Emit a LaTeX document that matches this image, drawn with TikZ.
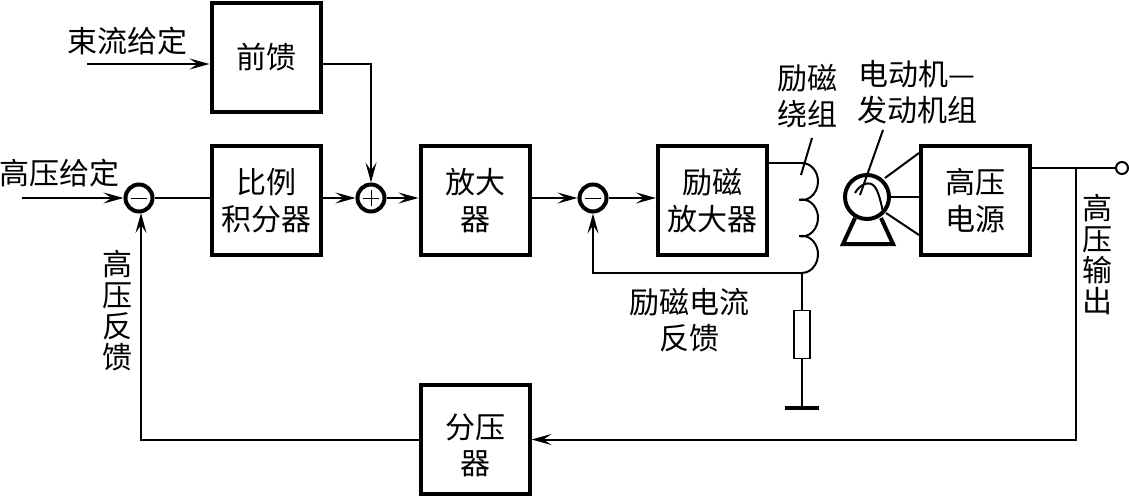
\documentclass[tikz,border=0pt]{standalone}
\usepackage{fontspec}
\setmainfont{Noto Sans CJK SC}
\usetikzlibrary{arrows.meta,calc}
\tikzset{
  blockbox/.style={draw,line width=4pt,minimum width=109pt,minimum height=109pt,inner sep=0pt,align=center,font=\fontsize{30}{37}\selectfont},
  sumnode/.style={draw,circle,line width=4pt,minimum size=27pt,inner sep=0pt},
  label/.style={inner sep=0pt,align=center,font=\fontsize{30}{36}\selectfont},
  vlabel/.style={inner sep=0pt,align=center,font=\fontsize{30}{31}\selectfont},
  wire/.style={line width=2pt},
  flow/.style={wire,-{Stealth[length=20pt,width=11pt,inset=8pt]}},
  heavy/.style={line width=4pt},
}
\begin{document}
\begin{tikzpicture}[x=1pt,y=-1pt]
\useasboundingbox (0,0) rectangle (1129,498);
% blocks
\node[blockbox] (ff)  at (266,57)    {前馈};
\node[blockbox] (pi)  at (266,200.5) {比例\\积分器};
\node[blockbox] (amp) at (475,200.5) {放大\\器};
\node[blockbox] (exc) at (712.5,200.5) {励磁\\放大器};
\node[blockbox] (hv)  at (975.5,200.5) {高压\\电源};
\node[blockbox] (div) at (475,439.5) {};
\node[label] (divt) at (475,445.5) {分压\\器};
% summing junctions
\node[sumnode] (s1) at (139,198) {};
\node[sumnode] (s2) at (371,198) {};
\node[sumnode] (s3) at (593,198) {};
\draw[line width=1pt] ($(s1)+(-8,0)$) -- ($(s1)+(8,0)$);
\draw[line width=1pt] ($(s2)+(-8,0)$) -- ($(s2)+(8,0)$) ($(s2)+(0,-8)$) -- ($(s2)+(0,8)$);
\draw[line width=1pt] ($(s3)+(-8,0)$) -- ($(s3)+(8,0)$);
% free ends and junctions
\coordinate (in1) at (22,198);
\coordinate (in2) at (87,64);
\coordinate (coilT) at (802,163);
\coordinate (coilB) at (802,273);
\coordinate (tap) at (1076,168);
\coordinate (gnd) at (802,408);
\coordinate (s1in) at (141,213);
\node[draw,line width=2pt,circle,minimum size=12pt,inner sep=0pt] (out) at (1122,168) {};
\node[draw,line width=1.5pt,minimum width=16pt,minimum height=48pt,inner sep=0pt] (res) at (802,334.5) {};
% signal path
\draw[flow] (in1) -- (s1.west);
\draw[wire] (s1.east) -- (s1 -| pi.west);
\draw[flow] (s2 -| pi.east) -- (s2.west);
\draw[flow] (s2.east) -- (s2 -| amp.west);
\draw[flow] (s3 -| amp.east) -- (s3.west);
\draw[flow] (s3.east) -- (s3 -| exc.west);
\draw[flow] (in2) -- (in2 -| ff.west);
\draw[flow] (in2 -| ff.east) -| (s2.north);
\draw[wire] (coilT -| exc.east) -- (coilT);
% coil
\draw[wire] (coilT) arc[start angle=-90,end angle=100,x radius=16,y radius=18.5]
  arc[start angle=-100,end angle=100,x radius=16,y radius=18.5]
  arc[start angle=-100,end angle=90,x radius=16,y radius=18.5];
\draw[wire] (812,138) -- (801,175);
% excitation feedback and resistor
\draw[flow] (coilB) -| (s3.south);
\draw[wire] (coilB) -- (res.north);
\draw[wire] (res.south) -- (gnd);
\draw[heavy] ($(gnd)+(-17,0)$) -- ($(gnd)+(17,0)$);
% motor-generator
\node[draw,circle,line width=4pt,minimum size=44pt,inner sep=0pt] (mot) at (867,197) {};
\draw[heavy,line join=miter] (855,218) -- (843,244) -- (893,244) -- (881,218);
\draw[wire] (885,178) -- (hv.west |- 0,153);
\draw[wire] (mot.east) -- (hv.west |- mot);
\draw[wire] (886,213) -- (hv.west |- 0,235);
\draw[wire] (883,130) -- (860,195);
\draw[wire] (855,193) .. controls (860,184) and (870,180) .. (875,187) .. controls (879,193) and (881,203) .. (883,212);
% output and HV feedback
\draw[wire] (hv.east |- out) -- (out.west);
\draw[flow] (tap) |- (div.east);
\draw[flow] (div.west) -| (s1in);
% labels
\node[label] (l1) at (127,41) {束流给定};
\node[label] (l2) at (59,173) {高压给定};
\node[label] (l3) at (807,96) {励磁\\绕组};
\node[label] (l4) at (917,92) {电动机—\\发动机组};
\node[label] (l5) at (689,320) {励磁电流\\反馈};
\node[vlabel] (l6) at (117,311) {高\\压\\反\\馈};
\node[vlabel] (l7) at (1097,255) {高\\压\\输\\出};
\end{tikzpicture}
\end{document}
